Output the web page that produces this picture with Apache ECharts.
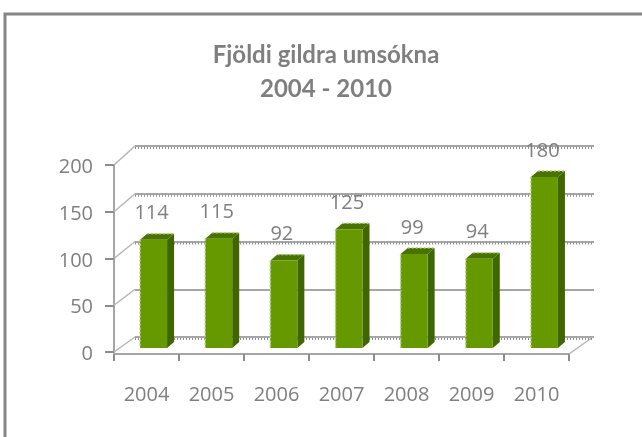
<!DOCTYPE html>
<html>
<head>
<meta charset="utf-8">
<style>
html, body { margin: 0; padding: 0; background: #fff; }
#main { width: 642px; height: 437px; }
</style>
<script src="https://cdn.jsdelivr.net/npm/echarts@6/dist/echarts.min.js"></script>
</head>
<body>
<div id="main"></div>
<script>
const years = ["2004", "2005", "2006", "2007", "2008", "2009", "2010"];
const applications = [114, 115, 92, 125, 99, 94, 180];
const yTicks = [0, 50, 100, 150, 200];
const jaggedTicks = [0, 100, 150, 200];

const TEXT = "#7f7f7f";
const AXIS = "#a6a6a6";
const labelFont = "'Open Sans', sans-serif";

const myChart = echarts.init(document.getElementById("main"), null, { renderer: "canvas" });

// 3d look: the front face comes from the scales, the depth is only an offset
function renderBar(params, api) {
  const top = api.coord([api.value(0), api.value(1)]);
  const base = api.coord([api.value(0), 0]);
  const w = 27;
  const d = 7;
  const x0 = top[0] - w / 2;
  const x1 = top[0] + w / 2;
  const edge = { stroke: "#b4cf7c", lineWidth: 1.5, lineDash: [2, 2] };
  return {
    type: "group",
    children: [
      { type: "polygon", shape: { points: [[x1, top[1]], [x1 + d, top[1] - 6], [x1 + d, base[1] - 6], [x1, base[1]]] }, style: { fill: "#3f6600" } },
      { type: "polygon", shape: { points: [[x0, top[1]], [x0 + d, top[1] - 6], [x1 + d, top[1] - 6], [x1, top[1]]] }, style: { fill: "#487300" } },
      { type: "rect", shape: { x: x0, y: top[1], width: w, height: base[1] - top[1] }, style: { fill: "#669900" } },
      { type: "line", shape: { x1: x0, y1: top[1], x2: x0, y2: base[1] }, style: edge },
      { type: "line", shape: { x1: x0 + d, y1: top[1] - 6, x2: x1 + d, y2: top[1] - 6 }, style: edge },
      {
        type: "text",
        style: {
          text: String(api.value(1)),
          x: top[0] - 2,
          y: top[1] - 26,
          textAlign: "center",
          textVerticalAlign: "middle",
          fill: TEXT,
          font: "20px " + labelFont,
        },
      },
    ],
  };
}

// side wall lines from the front axis to the back plane
function renderWall(params, api) {
  const v = api.value(0);
  const y = api.coord([0, v])[1];
  const left = params.coordSys.x;
  const right = left + params.coordSys.width;
  const style = { stroke: "#b5b5b5", lineWidth: 1.5 };
  const children = [
    { type: "line", shape: { x1: left, y1: y, x2: left + 21, y2: y - 15 - v * 0.02 }, style },
  ];
  if (v === 0) {
    children.push({ type: "line", shape: { x1: right, y1: y + 2, x2: right + 24, y2: y - 15 }, style });
  }
  return { type: "group", children };
}

// dotted underside of the back gridlines
function renderJag(params, api) {
  const y = api.coord([0, api.value(0)])[1];
  const left = params.coordSys.x;
  return {
    type: "line",
    shape: { x1: left, y1: y + 2, x2: left + params.coordSys.width, y2: y + 2 },
    style: { stroke: "#8c8c8c", lineWidth: 2, lineDash: [1, 2] },
  };
}

const option = {
  backgroundColor: "#fff",
  animation: false,
  title: {
    text: "Fjöldi gildra umsókna\n2004 - 2010",
    left: 321,
    top: 33,
    textAlign: "center",
    textStyle: {
      fontFamily: "Lato, sans-serif",
      fontSize: 24,
      fontWeight: "bold",
      color: TEXT,
      lineHeight: 34,
    },
  },
  graphic: [
    {
      type: "polyline",
      shape: { points: [[5, 437], [5, 14], [642, 14]] },
      style: { stroke: "#868686", lineWidth: 3, fill: null },
    },
  ],
  grid: [
    { left: 114, right: 73, top: 165, height: 187 },
    { left: 135, right: 48, top: 146, height: 191 },
    { left: 121, right: 65, top: 158, height: 190 },
  ],
  xAxis: [
    {
      gridIndex: 0,
      type: "category",
      data: years,
      axisLine: { onZero: false, lineStyle: { color: AXIS, width: 2 } },
      axisTick: { show: true, alignWithLabel: false, length: 7, lineStyle: { color: "#8c8c8c", width: 2 } },
      axisLabel: { color: TEXT, fontSize: 20, fontFamily: labelFont, margin: 31 },
      offset: 2,
    },
    { gridIndex: 1, type: "category", data: years, show: false },
    { gridIndex: 2, type: "category", data: years, show: false },
  ],
  yAxis: [
    {
      gridIndex: 0,
      type: "value",
      min: 0,
      max: 200,
      interval: 50,
      axisLine: { show: true, lineStyle: { color: AXIS, width: 2 } },
      axisTick: { show: true, length: 9, lineStyle: { color: "#8c8c8c", width: 2 } },
      axisLabel: {
        margin: 21,
        formatter: "{t|{value}}",
        rich: { t: { color: TEXT, fontSize: 20, fontFamily: labelFont, padding: [5, 0, 0, 0] } },
      },
      splitLine: { show: false },
    },
    {
      gridIndex: 1,
      type: "value",
      min: 0,
      max: 200,
      interval: 50,
      axisLine: { show: false },
      axisTick: { show: false },
      axisLabel: { show: false },
      splitLine: { show: true, lineStyle: { color: AXIS, width: 2 } },
    },
    { gridIndex: 2, type: "value", min: 0, max: 200, show: false, splitLine: { show: false } },
  ],
  series: [
    {
      type: "custom",
      xAxisIndex: 0,
      yAxisIndex: 0,
      data: yTicks.map((v) => [v]),
      encode: { y: 0 },
      renderItem: renderWall,
      silent: true,
      z: 1,
    },
    {
      type: "custom",
      xAxisIndex: 1,
      yAxisIndex: 1,
      data: jaggedTicks.map((v) => [v]),
      encode: { y: 0 },
      renderItem: renderJag,
      silent: true,
      z: 1,
    },
    {
      type: "custom",
      xAxisIndex: 2,
      yAxisIndex: 2,
      data: years.map((y, i) => [i, applications[i]]),
      encode: { x: 0, y: 1 },
      renderItem: renderBar,
      z: 3,
    },
  ],
};

myChart.setOption(option);
window.addEventListener("resize", () => {
  myChart.resize();
});
</script>
</body>
</html>
